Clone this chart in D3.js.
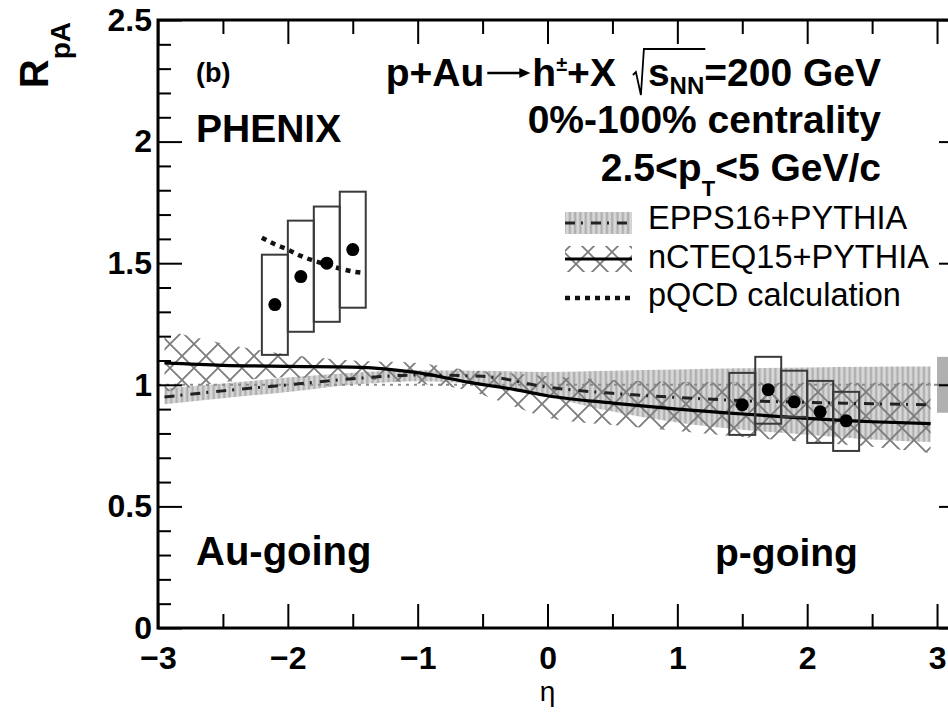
<!DOCTYPE html>
<html>
<head>
<meta charset="utf-8">
<script src="https://cdn.jsdelivr.net/npm/d3@7"></script>
<style>
  body { margin: 0; background: #fff; }
  text { font-family: "Liberation Sans", Arial, Helvetica, sans-serif; }
</style>
</head>
<body>
<div id="chart"></div>
<script>
// RpA vs eta, p+Au -> h +X

// Data
var xTicks = [-3, -2, -1, 0, 1, 2, 3];
var xMinor = [-2.5, -1.5, -0.5, 0.5, 1.5, 2.5];
var yTicks = [0, 0.5, 1, 1.5, 2, 2.5];
var yTickLabels = ["0", "0.5", "1", "1.5", "2", "2.5"];

var etaAu = [-2.1, -1.9, -1.7, -1.5];
var rpaAu = [1.33, 1.445, 1.50, 1.556];
var sysAuLo = [1.123, 1.218, 1.259, 1.317];
var sysAuHi = [1.535, 1.675, 1.733, 1.794];

var etaP = [1.5, 1.7, 1.9, 2.1, 2.3];
var rpaP = [0.918, 0.98, 0.93, 0.889, 0.852];
var sysPLo = [0.794, 0.84, 0.868, 0.761, 0.728];
var sysPHi = [1.049, 1.115, 1.058, 1.016, 0.971];

var eppsEta = [-2.95, -2.5, -2, -1.5, -1, -0.5, 0, 0.5, 1, 1.5, 2, 2.5, 2.95];
var eppsMid = [0.95, 0.975, 1.0, 1.025, 1.04, 1.035, 0.99, 0.965, 0.948, 0.935, 0.928, 0.922, 0.918];
var eppsHi  = [0.985, 1.005, 1.03, 1.05, 1.06, 1.058, 1.053, 1.058, 1.063, 1.068, 1.071, 1.074, 1.075];
var eppsLo  = [0.92, 0.945, 0.97, 1.0, 1.015, 1.0, 0.95, 0.89, 0.845, 0.815, 0.795, 0.775, 0.765];

var ncteqEta = [-2.95, -2.5, -2, -1.5, -1, -0.6, -0.25, 0, 0.5, 1, 1.5, 2, 2.5, 2.95];
var ncteqMid = [1.09, 1.08, 1.076, 1.073, 1.05, 1.01, 0.98, 0.955, 0.925, 0.9, 0.88, 0.862, 0.848, 0.84];
var ncteqHi  = [1.225, 1.17, 1.125, 1.10, 1.09, 1.06, 1.045, 1.035, 1.02, 1.012, 1.01, 1.008, 1.008, 1.008];
var ncteqLo  = [0.97, 1.01, 1.03, 1.025, 1.005, 0.975, 0.91, 0.865, 0.835, 0.81, 0.785, 0.765, 0.745, 0.72];

var pqcdEta = [-2.2, -2.1, -2.0, -1.9, -1.8, -1.7, -1.6, -1.5, -1.42];
var pqcdVal = [1.605, 1.578, 1.556, 1.53, 1.51, 1.494, 1.478, 1.466, 1.46];

var normUnc = 0.115;

var legendLabels = ["EPPS16+PYTHIA", "nCTEQ15+PYTHIA", "pQCD calculation"];

// Chart area
var svgWidth = 948;
var svgHeight = 721;
var margin = { top: 20, left: 158 };
var width = 805;
var height = 608;

var svg = d3.select("#chart")
  .append("svg")
  .attr("width", svgWidth)
  .attr("height", svgHeight);

var defs = svg.append("defs");

// vertical hatch (EPPS16)
var vh = defs.append("pattern")
  .attr("id", "vhatch")
  .attr("patternUnits", "userSpaceOnUse")
  .attr("width", 5.3).attr("height", 10);
vh.append("rect").attr("width", 5.3).attr("height", 10).attr("fill", "#d8d8d8");
vh.append("rect").attr("x", 1.5).attr("width", 2.4).attr("height", 10).attr("fill", "#b0b0b0");

// cross hatch (nCTEQ15)
var xh = defs.append("pattern")
  .attr("id", "xhatch")
  .attr("patternUnits", "userSpaceOnUse")
  .attr("width", 24).attr("height", 24);
xh.append("path")
  .attr("d", "M0,0L24,24M24,0L0,24M-2,2L2,-2M22,26L26,22M-2,22L2,26M22,-2L26,2")
  .attr("stroke", "#7c7c7c")
  .attr("stroke-width", 1.8)
  .attr("fill", "none");

// keep x-axis ticks near the frame edges
defs.append("clipPath").attr("id", "clipBottom")
  .append("rect").attr("x", -40).attr("y", -30).attr("width", width + 80).attr("height", 100);
defs.append("clipPath").attr("id", "clipTop")
  .append("rect").attr("x", -40).attr("y", -5).attr("width", width + 80).attr("height", 35);

var chartGroup = svg.append("g")
  .attr("transform", `translate(${margin.left}, ${margin.top})`);

var xScale = d3.scaleLinear().domain([-3, 3.2]).range([0, width]);
var yScale = d3.scaleLinear().domain([0, 2.5]).range([height, 0]);

function band(eta, lo, hi) {
  return eta.map((e, i) => ({ x: e, lo: lo[i], hi: hi[i] }));
}
function line(eta, v) {
  return eta.map((e, i) => ({ x: e, y: v[i] }));
}

var area = d3.area()
  .x(d => xScale(d.x))
  .y0(d => yScale(d.lo))
  .y1(d => yScale(d.hi))
  .curve(d3.curveMonotoneX);

var lineGen = d3.line()
  .x(d => xScale(d.x))
  .y(d => yScale(d.y))
  .curve(d3.curveMonotoneX);

// bands
chartGroup.append("path")
  .datum(band(eppsEta, eppsLo, eppsHi))
  .attr("d", area)
  .attr("fill", "url(#vhatch)");

chartGroup.append("path")
  .datum(band(ncteqEta, ncteqLo, ncteqHi))
  .attr("d", area)
  .attr("fill", "url(#xhatch)");

// unity line
chartGroup.append("line")
  .attr("x1", xScale(-3)).attr("x2", xScale(3))
  .attr("y1", yScale(1)).attr("y2", yScale(1))
  .attr("stroke", "#8a8a8a")
  .attr("stroke-width", 2)
  .attr("stroke-dasharray", "3,5");

// central lines
chartGroup.append("path")
  .datum(line(eppsEta, eppsMid))
  .attr("d", lineGen)
  .attr("fill", "none")
  .attr("stroke", "#222")
  .attr("stroke-width", 3)
  .attr("stroke-dasharray", "10,6,2,8");

chartGroup.append("path")
  .datum(line(ncteqEta, ncteqMid))
  .attr("d", lineGen)
  .attr("fill", "none")
  .attr("stroke", "#000")
  .attr("stroke-width", 3.2);

chartGroup.append("path")
  .datum(line(pqcdEta, pqcdVal))
  .attr("d", lineGen)
  .attr("fill", "none")
  .attr("stroke", "#111")
  .attr("stroke-width", 4.5)
  .attr("stroke-dasharray", "5,5");

// normalization box
chartGroup.append("rect")
  .attr("x", xScale(3.0))
  .attr("width", xScale(3.15) - xScale(3.0))
  .attr("y", yScale(1 + normUnc))
  .attr("height", yScale(1 - normUnc) - yScale(1 + normUnc))
  .attr("fill", "#b0b0b0");
chartGroup.append("line")
  .attr("x1", xScale(3.0)).attr("x2", xScale(3.15))
  .attr("y1", yScale(1)).attr("y2", yScale(1))
  .attr("stroke", "#777").attr("stroke-width", 2);

// systematic boxes and points
var pts = line(etaAu, rpaAu).map((d, i) => Object.assign(d, { lo: sysAuLo[i], hi: sysAuHi[i] }))
  .concat(line(etaP, rpaP).map((d, i) => Object.assign(d, { lo: sysPLo[i], hi: sysPHi[i] })));

chartGroup.selectAll(".sys")
  .data(pts)
  .enter()
  .append("rect")
  .attr("class", "sys")
  .attr("x", d => xScale(d.x - 0.1))
  .attr("width", d => xScale(d.x + 0.1) - xScale(d.x - 0.1))
  .attr("y", d => yScale(d.hi))
  .attr("height", d => yScale(d.lo) - yScale(d.hi))
  .attr("fill", "none")
  .attr("stroke", "#3a3a3a")
  .attr("stroke-width", 2);

chartGroup.selectAll(".pt")
  .data(pts)
  .enter()
  .append("circle")
  .attr("class", "pt")
  .attr("cx", d => xScale(d.x))
  .attr("cy", d => yScale(d.y))
  .attr("r", 6.5)
  .attr("fill", "#000");

// axes (ROOT style, ticks pointing inward)
function styleAxis(g) {
  g.select(".domain").remove();
  g.selectAll(".tick line").attr("stroke", "#000").attr("stroke-width", 2);
  g.selectAll("text")
    .attr("fill", "#000")
    .style("font-size", "32px")
    .style("font-weight", "bold");
}

var bottomAxes = chartGroup.append("g")
  .attr("transform", `translate(0, ${height})`)
  .attr("clip-path", "url(#clipBottom)");
bottomAxes.append("g")
  .call(d3.axisBottom(xScale).tickValues(xTicks).tickSize(-24).tickPadding(18).tickFormat(d3.format("d")))
  .call(styleAxis);
bottomAxes.append("g")
  .call(d3.axisBottom(xScale).tickValues(xMinor).tickSize(-14).tickFormat(""))
  .call(styleAxis);

var topAxes = chartGroup.append("g")
  .attr("clip-path", "url(#clipTop)");
topAxes.append("g")
  .call(d3.axisTop(xScale).tickValues(xTicks).tickSize(-24).tickFormat(""))
  .call(styleAxis);
topAxes.append("g")
  .call(d3.axisTop(xScale).tickValues(xMinor).tickSize(-14).tickFormat(""))
  .call(styleAxis);

var yMinor = d3.range(1, 25).map(i => i / 10).filter(v => Math.abs(v * 2 - Math.round(v * 2)) > 1e-6);

chartGroup.append("g")
  .call(d3.axisLeft(yScale).tickValues(yTicks).tickSize(-24).tickPadding(6)
    .tickFormat((d, i) => yTickLabels[i]))
  .call(styleAxis);
chartGroup.append("g")
  .call(d3.axisLeft(yScale).tickValues(yMinor).tickSize(-13).tickFormat(""))
  .call(styleAxis);
chartGroup.append("g")
  .attr("transform", `translate(${width}, 0)`)
  .call(d3.axisRight(yScale).tickValues(yTicks).tickSize(-24).tickFormat(""))
  .call(styleAxis);
chartGroup.append("g")
  .attr("transform", `translate(${width}, 0)`)
  .call(d3.axisRight(yScale).tickValues(yMinor).tickSize(-13).tickFormat(""))
  .call(styleAxis);

// frame
chartGroup.append("rect")
  .attr("width", width).attr("height", height)
  .attr("fill", "none")
  .attr("stroke", "#000")
  .attr("stroke-width", 3);

// axis titles
var yt = svg.append("text")
  .attr("transform", "translate(48, 22) rotate(-90)")
  .attr("text-anchor", "end")
  .style("font-weight", "bold")
  .style("font-size", "40px");
yt.append("tspan").text("R");
yt.append("tspan").attr("dy", 22).style("font-size", "28px").text("pA");

svg.append("text")
  .attr("x", margin.left + xScale(0))
  .attr("y", 701)
  .attr("text-anchor", "middle")
  .style("font-size", "28px")
  .text("η");

// labels
function bold(x, y, size, str, anchor) {
  return svg.append("text")
    .attr("x", x).attr("y", y)
    .attr("text-anchor", anchor || "start")
    .style("font-weight", "bold")
    .style("font-size", size + "px")
    .text(str);
}
bold(196, 82, 27, "(b)");
bold(196, 142, 39, "PHENIX");
bold(196, 565, 40, "Au-going");
bold(715, 566, 39, "p-going");

// p+Au -> h+X  sqrt(s_NN)=200 GeV
var base1 = 86;
var t1 = svg.append("text")
  .attr("x", 881).attr("y", base1)
  .attr("text-anchor", "end")
  .style("font-weight", "bold")
  .style("font-size", "39px");
t1.append("tspan").text("p+Au");
t1.append("tspan").attr("dx", 48).text("h");
t1.append("tspan").attr("dy", -15).style("font-size", "20px").text("±");
t1.append("tspan").attr("dy", 15).text("+X");
t1.append("tspan").attr("dx", 32).text("s");
t1.append("tspan").attr("dy", 8).style("font-size", "24px").text("NN");
t1.append("tspan").attr("dy", -8).text("=200 GeV");

var t1n = t1.node();
var full = t1n.textContent;
var pu = t1n.getEndPositionOfChar(full.indexOf("u"));
var ph = t1n.getStartPositionOfChar(full.indexOf("h"));
var ay = base1 - 13;
svg.append("line")
  .attr("x1", pu.x + 3).attr("x2", ph.x - 10)
  .attr("y1", ay).attr("y2", ay)
  .attr("stroke", "#000").attr("stroke-width", 2.6);
svg.append("path")
  .attr("d", `M${ph.x - 2},${ay} L${ph.x - 13},${ay - 5} L${ph.x - 13},${ay + 5} Z`)
  .attr("fill", "#000");

var ps = t1n.getStartPositionOfChar(full.indexOf("s"));
var pe = t1n.getStartPositionOfChar(full.indexOf("="));
svg.append("path")
  .attr("d", `M${ps.x - 15},${base1 - 11} L${ps.x - 12},${base1 - 14} L${ps.x - 7},${base1 + 9} L${ps.x - 4},${base1 - 37} L${pe.x + 1},${base1 - 37}`)
  .attr("fill", "none")
  .attr("stroke", "#000")
  .attr("stroke-width", 1.8);

bold(881, 133, 39, "0%-100% centrality", "end");

var t3 = svg.append("text")
  .attr("x", 881).attr("y", 181)
  .attr("text-anchor", "end")
  .style("font-weight", "bold")
  .style("font-size", "39px");
t3.append("tspan").text("2.5<p");
t3.append("tspan").attr("dy", 15).style("font-size", "22px").text("T");
t3.append("tspan").attr("dy", -15).text("<5 GeV/c");

// legend
var legend = svg.append("g");
legend.append("rect").attr("x", 565).attr("y", 212).attr("width", 67).attr("height", 22).attr("fill", "url(#vhatch)");
legend.append("line").attr("x1", 565).attr("x2", 632).attr("y1", 223).attr("y2", 223)
  .attr("stroke", "#222").attr("stroke-width", 3).attr("stroke-dasharray", "10,6,2,8");
legend.append("rect").attr("x", 565).attr("y", 246).attr("width", 67).attr("height", 26).attr("fill", "url(#xhatch)");
legend.append("line").attr("x1", 565).attr("x2", 632).attr("y1", 259).attr("y2", 259)
  .attr("stroke", "#000").attr("stroke-width", 3);
legend.append("line").attr("x1", 565).attr("x2", 632).attr("y1", 298).attr("y2", 298)
  .attr("stroke", "#111").attr("stroke-width", 4.5).attr("stroke-dasharray", "5,5");

legend.selectAll(".lt")
  .data(legendLabels)
  .enter()
  .append("text")
  .attr("class", "lt")
  .attr("x", 648)
  .attr("y", (d, i) => 229 + i * 38.5)
  .style("font-size", "32.5px")
  .text(d => d);
</script>
</body>
</html>
